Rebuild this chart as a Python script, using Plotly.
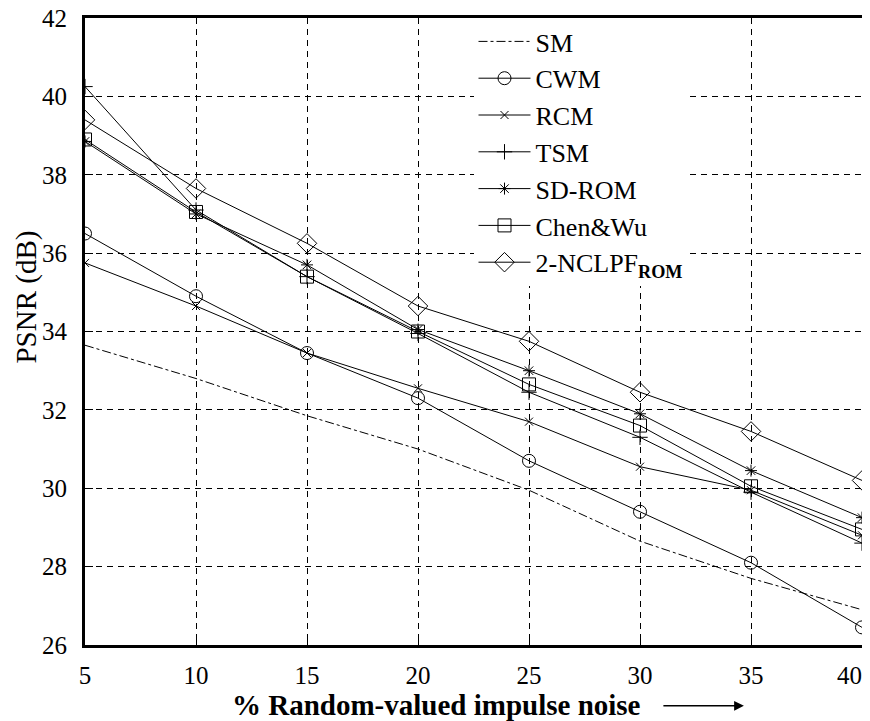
import plotly.graph_objects as go

noise = [5, 10, 15, 20, 25, 30, 35, 40]
x_tick_labels = ["5", "10", "15", "20", "25", "30", "35", "40\u00a0\u00a0\u00a0\u00a0"]
sm = [33.65, 32.8, 31.85, 31.0, 29.95, 28.65, 27.7, 26.9]
cwm = [36.5, 34.9, 33.45, 32.3, 30.7, 29.4, 28.1, 26.45]
rcm = [35.75, 34.65, 33.45, 32.55, 31.7, 30.55, 29.95, 28.8]
tsm = [40.25, 37.1, 35.4, 33.95, 32.45, 31.3, 29.9, 28.6]
sdrom = [38.85, 37.0, 35.7, 34.05, 33.0, 31.9, 30.45, 29.25]
chenwu = [38.9, 37.05, 35.4, 34.0, 32.65, 31.6, 30.05, 28.95]
nclpf = [39.4, 37.65, 36.25, 34.65, 33.75, 32.45, 31.45, 30.2]
y_ticks = [26, 28, 30, 32, 34, 36, 38, 40, 42]

series = [
    ("SM", sm, None, 0, "dashdot"),
    ("CWM", cwm, "circle-open", 13, "solid"),
    ("RCM", rcm, "x-thin-open", 8, "solid"),
    ("TSM", tsm, "cross-thin-open", 11, "solid"),
    ("SD-ROM", sdrom, "asterisk-open", 10, "solid"),
    ("Chen&Wu", chenwu, "square-open", 13, "solid"),
    ("2-NCLPF<sub><b>ROM</b></sub>", nclpf, "diamond-open", 15, "solid"),
]

fig = go.Figure()
for name, vals, sym, size, dash in series:
    if sym is None:
        fig.add_trace(go.Scatter(x=noise, y=vals, name=name, mode="lines",
                                 line=dict(color="black", width=1, dash=dash)))
    else:
        fig.add_trace(go.Scatter(x=noise, y=vals, name=name, mode="lines+markers",
                                 line=dict(color="black", width=1, dash=dash),
                                 marker=dict(symbol=sym, size=size, color="black",
                                             line=dict(color="black", width=1))))

font_family = "Liberation Serif, Times New Roman, serif"
axis_common = dict(
    showline=True, mirror=True, linewidth=3, linecolor="black",
    showgrid=True, gridcolor="black", gridwidth=1.3, griddash="6px,5px",
    ticks="inside", ticklen=8, tickwidth=1, tickcolor="black",
    zeroline=False, automargin=False, ticklabeloverflow="allow",
    tickfont=dict(family=font_family, size=25, color="black"),
)

fig.update_xaxes(range=[5, 40], tickvals=noise, ticktext=x_tick_labels,
                 ticklabelstandoff=6, **axis_common)
fig.update_yaxes(range=[26, 42], tickvals=y_ticks, ticklabelstandoff=10, **axis_common)

# page body adds an 8px offset; layout is sized so the plot lands where the reference has it
fig.add_annotation(xref="paper", yref="paper", x=-0.0765, y=0.555,
                   text="PSNR (dB)", showarrow=False, textangle=-90,
                   font=dict(family=font_family, size=29, color="black"),
                   xanchor="center", yanchor="middle")
fig.add_annotation(xref="paper", yref="paper", x=0.453, y=-0.095,
                   text="<b>% Random-valued impulse noise</b>", showarrow=False,
                   font=dict(family=font_family, size=29, color="black"),
                   xanchor="center", yanchor="middle")
fig.add_annotation(xref="paper", yref="paper", x=0.848, y=-0.097,
                   ax=-82, ay=0, text="", showarrow=True,
                   arrowhead=2, arrowsize=1.3, arrowwidth=1.5, arrowcolor="black")

fig.update_layout(
    width=862, height=713,
    margin=dict(l=77, r=8, t=10, b=76),
    paper_bgcolor="white", plot_bgcolor="white",
    font=dict(family=font_family, color="black"),
    legend=dict(x=0.5, y=1.0, xanchor="left", yanchor="top",
                bgcolor="white", borderwidth=0, itemwidth=52,
                font=dict(family=font_family, size=26, color="black"),
                tracegroupgap=0),
)

fig.write_html("out.html")
